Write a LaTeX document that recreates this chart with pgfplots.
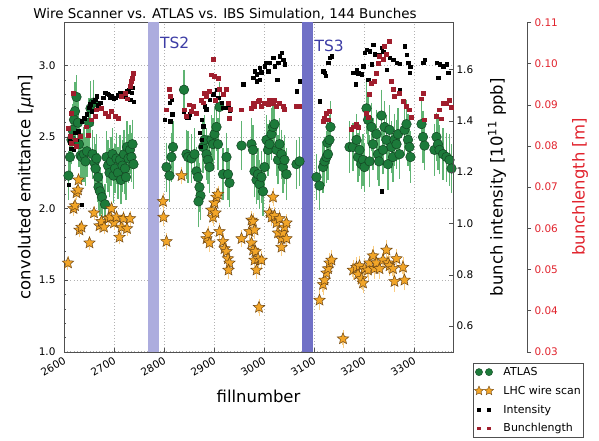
\documentclass[border=0pt]{standalone}
\usepackage{fontspec}
\setmainfont{DejaVu Sans}
\usepackage{pgfplots}
\pgfplotsset{compat=1.18}
\usetikzlibrary{plotmarks}
\definecolor{atlasgreen}{RGB}{28,122,58}
\definecolor{atlasedge}{RGB}{20,70,35}
\definecolor{errgreen}{RGB}{95,180,115}
\definecolor{starfill}{RGB}{242,165,40}
\definecolor{staredge}{RGB}{110,70,20}
\definecolor{errstar}{RGB}{250,205,130}
\definecolor{blred}{RGB}{160,30,45}
\definecolor{axred}{RGB}{225,35,45}
\definecolor{tsa}{RGB}{172,172,222}
\definecolor{tsb}{RGB}{112,112,198}
\definecolor{tstext}{RGB}{60,60,165}
\definecolor{framegray}{RGB}{80,80,80}

\pgfdeclareplotmark{fstar}{%
  \pgfpathmoveto{\pgfpointpolar{90}{\pgfplotmarksize}}%
  \pgfpathlineto{\pgfpointpolar{126}{0.45\pgfplotmarksize}}%
  \pgfpathlineto{\pgfpointpolar{162}{\pgfplotmarksize}}%
  \pgfpathlineto{\pgfpointpolar{198}{0.45\pgfplotmarksize}}%
  \pgfpathlineto{\pgfpointpolar{234}{\pgfplotmarksize}}%
  \pgfpathlineto{\pgfpointpolar{270}{0.45\pgfplotmarksize}}%
  \pgfpathlineto{\pgfpointpolar{306}{\pgfplotmarksize}}%
  \pgfpathlineto{\pgfpointpolar{342}{0.45\pgfplotmarksize}}%
  \pgfpathlineto{\pgfpointpolar{18}{\pgfplotmarksize}}%
  \pgfpathlineto{\pgfpointpolar{54}{0.45\pgfplotmarksize}}%
  \pgfpathclose
  \pgfusepathqfillstroke
}

\pgfplotstableread{
f e d
2609 2.23 0.15
2612 2.36 0.14
2615 2.48 0.15
2617 2.55 0.16
2620 2.62 0.15
2622 2.68 0.18
2625 2.78 0.13
2628 2.60 0.15
2630 2.45 0.14
2633 2.37 0.16
2636 2.36 0.15
2640 2.38 0.17
2643 2.33 0.15
2646 2.40 0.16
2650 2.60 0.15
2653 2.70 0.17
2659 2.74 0.14
2657 2.38 0.15
2661 2.32 0.16
2663 2.28 0.15
2665 2.35 0.15
2668 2.22 0.15
2669 2.15 0.14
2672 2.12 0.15
2676 2.08 0.15
2682 2.03 0.12
2685 2.36 0.16
2688 2.30 0.16
2691 2.25 0.15
2694 2.33 0.15
2697 2.38 0.16
2699 2.23 0.17
2702 2.28 0.15
2705 2.35 0.16
2708 2.25 0.16
2712 2.34 0.15
2714 2.20 0.15
2717 2.30 0.16
2720 2.38 0.15
2722 2.28 0.16
2724 2.22 0.14
2726 2.43 0.16
2729 2.35 0.15
2732 2.41 0.15
2735 2.36 0.15
2737 2.45 0.15
2739 2.31 0.15
2805 2.29 0.15
2811 2.23 0.16
2815 2.36 0.15
2818 2.43 0.16
2840 2.83 0.12
2845 2.38 0.15
2848 2.36 0.16
2855 2.35 0.15
2861 2.38 0.16
2865 2.26 0.15
2868 2.22 0.16
2871 2.15 0.15
2873 2.09 0.15
2869 2.05 0.16
2878 2.43 0.16
2881 2.48 0.15
2885 2.38 0.16
2888 2.34 0.15
2891 2.29 0.16
2895 2.48 0.15
2898 2.45 0.16
2901 2.52 0.16
2905 2.57 0.15
2908 2.45 0.16
2911 2.71 0.15
2918 2.24 0.16
2925 2.36 0.15
2928 2.24 0.16
2931 2.18 0.15
2955 2.44 0.15
2975 2.45 0.16
2978 2.41 0.15
2981 2.26 0.16
2985 2.20 0.15
2988 2.24 0.16
2991 2.17 0.15
2995 2.22 0.16
2998 2.12 0.15
3001 2.29 0.16
3005 2.48 0.15
3008 2.41 0.16
3011 2.45 0.15
3015 2.52 0.16
3018 2.57 0.16
3021 2.59 0.15
3025 2.41 0.16
3028 2.34 0.15
3031 2.45 0.16
3035 2.38 0.15
3038 2.29 0.16
3041 2.34 0.15
3045 2.24 0.16
3065 2.31 0.15
3071 2.33 0.15
3105 2.22 0.14
3111 2.16 0.15
3118 2.29 0.16
3121 2.33 0.15
3125 2.36 0.16
3127 2.46 0.15
3128 2.38 0.16
3131 2.48 0.15
3133 2.57 0.16
3171 2.43 0.16
3178 2.43 0.15
3185 2.48 0.16
3188 2.36 0.15
3191 2.41 0.16
3195 2.31 0.15
3198 2.34 0.16
3201 2.29 0.15
3205 2.70 0.16
3208 2.62 0.15
3211 2.33 0.16
3215 2.57 0.15
3218 2.45 0.16
3225 2.52 0.15
3228 2.38 0.16
3230 2.33 0.15
3235 2.65 0.16
3238 2.41 0.15
3241 2.57 0.16
3245 2.48 0.15
3248 2.31 0.16
3251 2.55 0.15
3255 2.43 0.16
3258 2.36 0.15
3261 2.48 0.16
3265 2.45 0.15
3268 2.52 0.16
3271 2.38 0.15
3281 2.55 0.16
3285 2.59 0.15
3288 2.48 0.16
3291 2.43 0.15
3293 2.36 0.16
3315 2.59 0.15
3318 2.50 0.16
3321 2.44 0.15
3341 2.41 0.16
3345 2.50 0.15
3348 2.45 0.16
3351 2.41 0.15
3358 2.38 0.16
3365 2.36 0.15
3371 2.34 0.16
3375 2.28 0.15
}\atlas

\pgfplotstableread{
f e d
2608 1.62 0.03
2619 2.00 0.03
2622 2.02 0.03
2625 2.11 0.03
2628 2.13 0.03
2629 2.20 0.03
2631 1.85 0.03
2635 1.87 0.03
2651 1.76 0.03
2660 1.97 0.03
2671 1.88 0.03
2675 1.91 0.03
2680 1.87 0.03
2689 1.93 0.03
2693 1.94 0.03
2695 2.00 0.03
2700 1.90 0.03
2705 1.94 0.03
2711 1.80 0.03
2715 1.87 0.03
2719 1.93 0.03
2726 1.86 0.03
2732 1.93 0.03
2798 2.05 0.04
2799 1.94 0.04
2805 1.77 0.04
2835 2.23 0.04
2885 1.79 0.04
2888 1.82 0.04
2891 1.76 0.04
2895 1.99 0.04
2898 1.94 0.04
2901 2.04 0.04
2903 1.97 0.04
2905 2.08 0.04
2908 2.10 0.04
2911 1.84 0.04
2918 1.77 0.04
2921 1.72 0.04
2925 1.70 0.04
2928 1.65 0.04
2931 1.62 0.04
2929 1.57 0.04
2955 1.79 0.04
2971 1.84 0.04
2975 1.92 0.04
2975 1.76 0.04
2978 1.71 0.04
2978 1.91 0.04
2981 1.85 0.04
2981 1.64 0.04
2983 1.70 0.04
2985 1.57 0.04
2988 1.65 0.04
2990 1.31 0.04
2995 1.64 0.04
3011 1.97 0.04
3015 1.94 0.04
3018 2.08 0.04
3021 1.95 0.04
3025 1.90 0.04
3028 1.83 0.04
3031 1.93 0.04
3035 1.79 0.04
3035 1.73 0.04
3038 1.83 0.04
3041 1.87 0.04
3045 1.90 0.04
3045 1.79 0.04
3111 1.36 0.05
3118 1.47 0.05
3121 1.50 0.05
3125 1.55 0.05
3128 1.58 0.05
3131 1.62 0.05
3135 1.64 0.05
3158 1.09 0.04
3178 1.57 0.05
3185 1.59 0.05
3188 1.54 0.05
3191 1.60 0.05
3195 1.51 0.05
3198 1.48 0.05
3201 1.58 0.05
3208 1.57 0.05
3211 1.62 0.05
3218 1.67 0.05
3221 1.58 0.05
3225 1.62 0.05
3231 1.58 0.05
3238 1.64 0.05
3245 1.71 0.05
3248 1.62 0.05
3251 1.60 0.05
3258 1.58 0.05
3261 1.49 0.05
3265 1.65 0.05
3278 1.59 0.05
3281 1.50 0.05
}\wire

\pgfplotstableread{
f i
2609 1.152
2635 1.074
2611 1.335
2612 1.316
2614 1.290
2619 1.288
2622 1.354
2625 1.327
2628 1.360
2635 1.398
2640 1.410
2645 1.425
2650 1.450
2652 1.464
2655 1.437
2658 1.475
2662 1.483
2665 1.495
2668 1.460
2672 1.471
2678 1.490
2682 1.510
2686 1.505
2689 1.502
2692 1.490
2695 1.495
2699 1.485
2702 1.491
2707 1.500
2712 1.510
2716 1.500
2722 1.495
2726 1.515
2729 1.522
2732 1.483
2735 1.510
2737 1.530
2739 1.475
2801 1.405
2805 1.444
2811 1.470
2815 1.483
2812 1.399
2816 1.425
2839 1.438
2845 1.412
2849 1.412
2851 1.425
2875 1.405
2878 1.379
2871 1.353
2875 1.327
2873 1.300
2881 1.457
2884 1.445
2891 1.483
2898 1.503
2905 1.522
2908 1.490
2915 1.470
2918 1.451
2928 1.451
2931 1.440
2958 1.542
2978 1.568
2981 1.593
2985 1.581
2985 1.554
2991 1.607
2991 1.560
2994 1.590
3001 1.613
3003 1.626
3008 1.593
3011 1.626
3018 1.646
3021 1.613
3026 1.561
3028 1.626
3031 1.652
3035 1.665
3038 1.639
3041 1.620
3065 1.515
3071 1.554
3111 1.477
3118 1.593
3121 1.587
3123 1.575
3128 1.626
3131 1.646
3135 1.652
3178 1.587
3183 1.542
3185 1.600
3188 1.585
3195 1.581
3198 1.613
3201 1.665
3205 1.678
3208 1.561
3211 1.671
3215 1.620
3218 1.697
3221 1.660
3225 1.658
3231 1.658
3235 1.685
3235 1.126
3238 1.670
3245 1.600
3251 1.646
3258 1.639
3265 1.626
3271 1.622
3271 1.522
3281 1.691
3285 1.658
3288 1.626
3291 1.587
3292 1.610
3318 1.626
3321 1.639
3345 1.626
3348 1.568
3351 1.620
3358 1.613
3365 1.620
3368 1.587
}\intens

\pgfplotstableread{
f l
2608 0.0844
2612 0.0823
2615 0.0880
2615 0.0807
2619 0.0929
2622 0.0815
2625 0.0799
2632 0.0823
2645 0.0847
2649 0.0827
2655 0.0864
2662 0.0872
2665 0.0888
2675 0.0892
2682 0.0880
2689 0.0872
2695 0.0884
2702 0.0872
2709 0.0868
2715 0.0920
2722 0.0929
2727 0.0915
2732 0.0945
2735 0.0957
2737 0.0965
2739 0.0977
2805 0.0888
2811 0.0937
2813 0.0920
2841 0.0888
2845 0.0872
2851 0.0900
2855 0.0884
2858 0.0896
2865 0.0880
2875 0.0912
2878 0.0905
2881 0.0929
2885 0.0920
2891 0.0933
2895 0.0973
2898 0.1010
2901 0.0969
2903 0.0912
2908 0.0965
2911 0.0937
2918 0.0925
2925 0.0937
2928 0.0904
2931 0.0868
2933 0.0890
2955 0.0888
2975 0.0892
2978 0.0904
2981 0.0896
2988 0.0908
2991 0.0912
2995 0.0896
3001 0.0904
3008 0.0900
3011 0.0912
3018 0.0904
3021 0.0912
3025 0.0896
3031 0.0904
3038 0.0896
3041 0.0890
3065 0.0896
3071 0.0896
3118 0.0860
3121 0.0868
3125 0.0880
3128 0.0864
3131 0.0884
3175 0.0840
3178 0.0847
3185 0.0852
3188 0.0845
3205 0.0880
3208 0.0870
3211 0.0925
3215 0.0953
3221 0.0957
3225 0.0977
3228 0.1002
3231 0.1018
3238 0.1010
3241 0.1042
3245 0.1022
3251 0.1054
3255 0.0957
3258 0.0937
3261 0.0920
3271 0.0929
3278 0.0908
3285 0.0896
3291 0.0888
3295 0.0870
3315 0.0915
3318 0.0929
3320 0.0864
3345 0.0872
3351 0.0888
3355 0.0866
3358 0.0904
3365 0.0904
3371 0.0912
3375 0.0895
}\blen

\begin{document}
\begin{tikzpicture}
\path[use as bounding box, clip] (0,0) rectangle (599bp,441bp);

\node[font=\fontsize{13.5}{16}\selectfont, anchor=base] at (225bp,422bp) {Wire Scanner vs. ATLAS vs. IBS Simulation, 144 Bunches};

% main axis
\begin{axis}[
  at={(64bp,89.3bp)}, anchor=south west,
  scale only axis, width=389bp, height=329.2bp,
  xmin=2600, xmax=3378, ymin=1.0, ymax=3.3,
  xtick={2600,2700,...,3300},
  ytick={1.0,1.5,...,3.0},
  minor y tick num=4,
  xtick pos=bottom, ytick pos=left,
  tick align=inside,
  major tick length=4bp, minor tick length=2bp,
  axis line style={framegray},
  every tick/.style={framegray},
  grid=major,
  major grid style={gray!60, dash pattern=on 1bp off 2.2bp, line width=0.6bp},
  tick label style={font=\fontsize{10.5}{12}\selectfont, /pgf/number format/assume math mode=true},
  xticklabel style={rotate=30, anchor=north east, /pgf/number format/1000 sep={}},
  yticklabel style={/pgf/number format/fixed, /pgf/number format/fixed zerofill, /pgf/number format/precision=1, xshift=-5bp},
  xlabel={fillnumber},
  ylabel={convoluted emittance [{\itshape μ}m]},
  every axis x label/.style={at={(axis description cs:0.5,-0.135)}, anchor=center, font=\fontsize{16.5}{19}\selectfont},
  every axis y label/.style={at={(axis description cs:-0.098,0.5)}, rotate=90, anchor=center, font=\fontsize{16.5}{19}\selectfont},
]
\addplot[draw=none, fill=tsa, forget plot] coordinates {(2767.5,3.5) (2789.5,3.5)} \closedcycle;
\addplot[draw=none, fill=tsb, forget plot] coordinates {(3075.5,3.5) (3097.5,3.5)} \closedcycle;
\node[anchor=base west, text=tstext, font=\fontsize{15.5}{18}\selectfont, inner sep=0pt] at (axis cs:2792,3.115) {TS2};
\node[anchor=base west, text=tstext, font=\fontsize{15.5}{18}\selectfont, inner sep=0pt] at (axis cs:3101,3.10) {TS3};
\addplot[only marks, mark=*, mark size=4.8bp, mark options={fill=atlasgreen, draw=atlasedge, line width=0.5bp},
  error bars/.cd, y dir=both, y explicit,
  error bar style={color=errgreen, line width=1.3bp},
  error mark options={color=errgreen, mark size=3bp, line width=1.1bp}]
  table[x=f, y=e, y error=d] {\atlas};
\addplot[only marks, mark=fstar, mark size=6bp, mark options={fill=starfill, draw=staredge, line width=0.5bp},
  error bars/.cd, y dir=both, y explicit,
  error bar style={color=errstar, line width=1.2bp},
  error mark options={color=errstar, mark size=3bp, line width=1bp}]
  table[x=f, y=e, y error=d] {\wire};
\end{axis}

% intensity axis
\begin{axis}[
  at={(64bp,89.3bp)}, anchor=south west,
  scale only axis, width=389bp, height=329.2bp,
  xmin=2600, xmax=3378, ymin=0.5, ymax=1.783,
  axis x line=none, axis y line*=right,
  ytick={0.6,0.8,...,1.6},
  tick align=inside, major tick length=4bp,
  axis line style={framegray}, every tick/.style={framegray},
  tick label style={font=\fontsize{10.5}{12}\selectfont},
  yticklabel style={/pgf/number format/fixed, /pgf/number format/fixed zerofill, /pgf/number format/precision=1, /pgf/number format/assume math mode=true},
  ylabel={bunch intensity [10\textsuperscript{11} ppb]},
  every axis y label/.style={at={(axis description cs:1.113,0.5)}, rotate=90, anchor=center, font=\fontsize{16.5}{19}\selectfont},
]
\addplot[only marks, mark=square*, mark size=1.7bp, mark options={fill=black, draw=black}] table[x=f, y=i] {\intens};
\end{axis}

% bunchlength axis
\begin{axis}[
  at={(64bp,89.3bp)}, anchor=south west,
  scale only axis, width=463bp, height=329.2bp,
  xmin=2600, xmax=3526, ymin=0.03, ymax=0.11,
  axis x line=none, axis y line*=right,
  ytick={0.03,0.04,...,0.11},
  scaled y ticks=false,
  tick align=outside, major tick length=4bp,
  axis line style={framegray}, every tick/.style={framegray},
  tick label style={font=\fontsize{10.5}{12}\selectfont, text=axred},
  yticklabel style={/pgf/number format/fixed, /pgf/number format/fixed zerofill, /pgf/number format/precision=2, /pgf/number format/assume math mode=true},
  ylabel={bunchlength [m]},
  every axis y label/.style={at={(axis description cs:1.1145,0.5)}, rotate=90, anchor=center, text=axred, font=\fontsize{16.5}{19}\selectfont},
  legend image code/.code={\path[draw=none] (0bp,0bp) (25bp,0bp);
     \draw[#1, draw=none] plot coordinates {(2bp,0bp)};
     \draw[#1, draw=none] plot coordinates {(12bp,0bp)};},
  legend style={at={(0.8834,-0.034)}, anchor=north west, draw=framegray, line width=0.8bp,
     font=\fontsize{11}{13}\selectfont, inner xsep=1bp, inner ysep=2.5bp, row sep=6bp,
     nodes={inner sep=1.5bp}},
  legend cell align=left,
]
\addlegendimage{only marks, mark=*, mark size=3.6bp, mark options={fill=atlasgreen, draw=atlasedge, line width=0.4bp}}
\addlegendentry{ATLAS}
\addlegendimage{only marks, mark=fstar, mark size=4.8bp, mark options={fill=starfill, draw=staredge, line width=0.4bp}}
\addlegendentry{LHC wire scan}
\addlegendimage{only marks, mark=square*, mark size=1.4bp, mark options={fill=black, draw=black}}
\addlegendentry{Intensity}
\addlegendimage{only marks, mark=square*, mark size=1.4bp, mark options={fill=blred, draw=blred}}
\addlegendentry{Bunchlength}
\addplot[forget plot, only marks, mark=square*, mark size=1.9bp, mark options={fill=blred, draw=blred}] table[x=f, y=l] {\blen};
\end{axis}
\end{tikzpicture}
\end{document}
